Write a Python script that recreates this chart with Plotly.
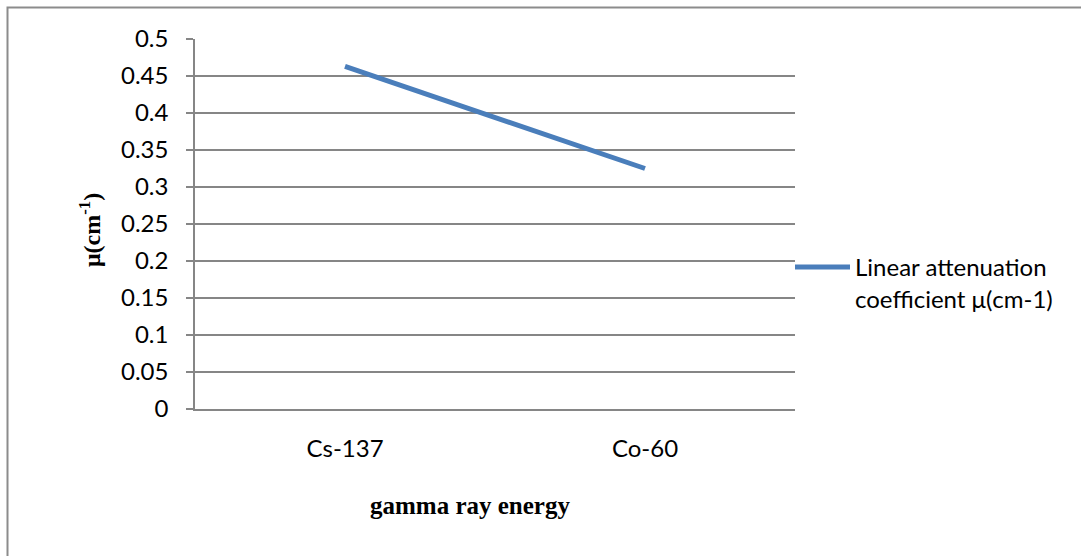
import plotly.graph_objects as go

categories = ["Cs-137", "Co-60"]
mu_values = [0.463, 0.325]
series_name = "Linear attenuation<br>coefficient μ(cm-1)"
y_ticks = [0, 0.05, 0.1, 0.15, 0.2, 0.25, 0.3, 0.35, 0.4, 0.45, 0.5]
y_tick_text = ["0", "0.05", "0.1", "0.15", "0.2", "0.25", "0.3", "0.35", "0.4", "0.45", "0.5"]

W, H = 1081, 556
ML, MR, MT, MB = 195, 286, 39, 147
PW, PH = W - ML - MR, H - MT - MB

def px(x):
    return (x - ML) / PW

def py(y):
    return (H - MB - y) / PH

GRID = "#868686"
FONT = "Lato"

fig = go.Figure()
fig.add_trace(go.Scatter(
    x=categories, y=mu_values, mode="lines", name=series_name,
    line=dict(color="#4A7EBB", width=5),
    showlegend=True,
))

fig.update_layout(
    width=W, height=H,
    margin=dict(l=ML, r=MR, t=MT, b=MB, pad=0),
    paper_bgcolor="white", plot_bgcolor="white",
    font=dict(family=FONT, size=24, color="#000000"),
    showlegend=True,
    legend=dict(
        x=px(790), y=py(245), xanchor="left", yanchor="top",
        xref="paper", yref="paper",
        valign="top", bgcolor="rgba(0,0,0,0)",
        font=dict(family=FONT, size=24, color="#000000"),
        itemwidth=55, tracegroupgap=0,
    ),
    xaxis=dict(
        type="category", range=[-0.5, 1.5],
        showgrid=False, zeroline=False,
        showline=True, linecolor=GRID, linewidth=1.5,
        ticks="", ticklabelstandoff=17,
        tickfont=dict(family=FONT, size=24),
    ),
    yaxis=dict(
        range=[0, 0.5], tickvals=y_ticks, ticktext=y_tick_text,
        showgrid=True, gridcolor=GRID, gridwidth=1.5,
        zeroline=False,
        showline=True, linecolor=GRID, linewidth=1.5,
        ticks="outside", ticklen=7, tickcolor=GRID, tickwidth=1.5,
        ticklabelstandoff=13,
        tickfont=dict(family=FONT, size=24),
    ),
    shapes=[dict(
        type="rect", xref="paper", yref="paper",
        x0=px(7.5), y0=py(575), x1=px(1095), y1=py(7.5),
        line=dict(color="#8C8C8C", width=2), fillcolor="rgba(0,0,0,0)", layer="below",
    )],
    annotations=[
        dict(text="<b>gamma ray energy</b>", xref="paper", yref="paper",
             x=px(470), y=py(505), xanchor="center", yanchor="middle",
             showarrow=False, font=dict(family="Liberation Serif", size=25, color="#000")),
        dict(text="<b>μ(cm<sup>-1</sup>)</b>", xref="paper", yref="paper",
             x=px(90), y=py(230), xanchor="center", yanchor="middle", textangle=-90,
             showarrow=False, font=dict(family="Liberation Serif", size=24, color="#000")),
    ],
)

fig.write_html("out.html")
